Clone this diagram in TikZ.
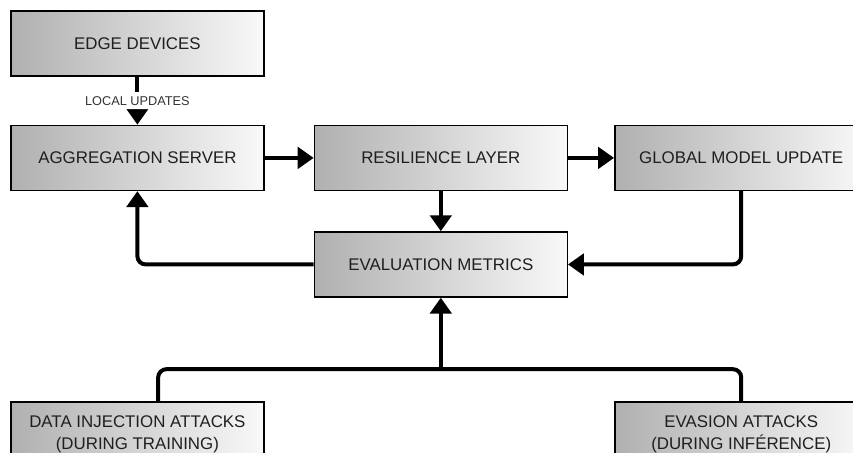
\documentclass[tikz,border=0pt]{standalone}
\usepackage{fontspec}
\setmainfont{Liberation Sans}
\usetikzlibrary{positioning,arrows.meta}

\begin{document}
\begin{tikzpicture}[
	box/.style = {
		draw, line width=1.1pt,
		left color=gray!62, right color=gray!5,
		minimum width=66.9mm,
		minimum height=17.2mm,
		text=black!88,
		align=center,
		font=\fontsize{12.7}{17}\selectfont,
	},
	link/.style={line width=3pt, rounded corners=2.2mm},
	flow/.style={link, -{Triangle[length=12pt,width=16pt]}},
	node distance=12.7mm
]

% frame of the picture (right and bottom boxes run over it)
\path[use as bounding box, clip] (-36.35mm,11.5mm) rectangle ++(225.7mm,-119.6mm);

\node [box] (edge) {EDGE DEVICES};
\node [box, below=of edge] (agg) {AGGREGATION SERVER};
\node [box, right=13mm of agg] (res) {RESILIENCE LAYER};
\node [box, right=12.2mm of res] (glob) {GLOBAL MODEL UPDATE};
\node [box, below=10.6mm of res] (eval) {EVALUATION METRICS};

% attack boxes
\node [box, below=55.6mm of agg] (inj) {DATA INJECTION ATTACKS\\(DURING TRAINING)};
\node [box, below=55.6mm of glob] (eva) {EVASION ATTACKS\\(DURING INFÉRENCE)};

% main flow
\draw[flow] (edge) -- node[fill=white, text=black!80, inner xsep=1pt, inner ysep=3pt,
	font=\fontsize{9.6}{11}\selectfont] (lu) {LOCAL UPDATES} (agg);
\draw[flow] (agg) -- (res);
\draw[flow] (res) -- (glob);
\draw[flow] (res) -- (eval);

% feedback loops
\draw[flow] (eval.west) -| (agg.south);
\draw[flow] (glob.south) |- (eval.east);

% attacks into evaluation
\coordinate[above=8.5mm of inj.north] (bus);
\draw[link] ([xshift=5.5mm]inj.north) |- (bus -| eva.north) -- (eva.north);
\draw[flow] (bus -| eval.south) -- (eval.south);

\end{tikzpicture}
\end{document}
